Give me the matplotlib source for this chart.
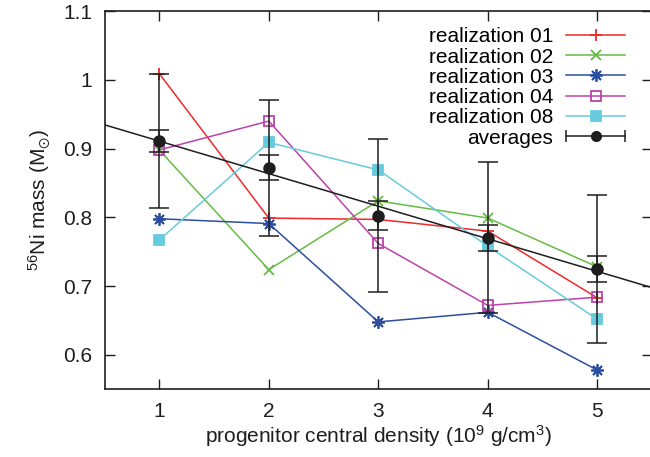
import numpy as np
import matplotlib
matplotlib.use("Agg")
import matplotlib.pyplot as plt
from matplotlib.lines import Line2D
from matplotlib.legend_handler import HandlerLine2D, HandlerTuple

plt.rcParams['font.family'] = ['Liberation Sans', 'DejaVu Sans']
plt.rcParams['mathtext.fontset'] = 'custom'
plt.rcParams['mathtext.rm'] = 'Liberation Sans'
plt.rcParams['mathtext.it'] = 'Liberation Sans'
plt.rcParams['mathtext.default'] = 'regular'

density = [1, 2, 3, 4, 5]
real01 = [1.009, 0.799, 0.797, 0.780, 0.683]
real02 = [0.898, 0.724, 0.824, 0.799, 0.728]
real03 = [0.798, 0.791, 0.648, 0.662, 0.578]
real04 = [0.898, 0.940, 0.762, 0.672, 0.684]
real08 = [0.767, 0.909, 0.869, 0.758, 0.652]
averages = [0.911, 0.872, 0.8025, 0.7705, 0.725]
err_large = [0.097, 0.099, 0.111, 0.110, 0.108]
err_small = [0.016, 0.018, 0.021, 0.019, 0.019]
xticks = [1, 2, 3, 4, 5]
yticks = [0.6, 0.7, 0.8, 0.9, 1.0, 1.1]
ytick_labels = ['0.6', '0.7', '0.8', '0.9', '1', '1.1']

FS = 15
fig = plt.figure(figsize=(6.5, 4.57), dpi=100)
ax = fig.add_axes([0.1608, 0.1481, 0.8423, 0.8278])

series = [
    ('realization 01', real01, '#ee2a2a', '+', 'full', 9),
    ('realization 02', real02, '#66bb44', 'x', 'full', 7),
    ('realization 03', real03, '#2b4ea0', (8, 2, 0), 'full', 9),
    ('realization 04', real04, '#bb44aa', 's', 'none', 7.5),
    ('realization 08', real08, '#66ccdd', 's', 'full', 7.5),
]
handles = []
labels = []
for lab, vals, col, mk, fill, ms in series:
    ln, = ax.plot(density, vals, color=col, lw=1.1, marker=mk, ms=ms,
                  fillstyle=fill, mew=1.3, mfc=col if fill == 'full' else 'none',
                  mec=col, zorder=2)
    handles.append(ln)
    labels.append(lab)

black = '#1e1e1e'
ax.errorbar(density, averages, yerr=err_large, fmt='none', ecolor=black,
            elinewidth=1.1, capsize=7, capthick=1.1, zorder=3)
ax.errorbar(density, averages, yerr=err_small, fmt='o', color=black, ms=8,
            ecolor=black, elinewidth=1.1, capsize=7, capthick=1.1, zorder=3)

coef = np.polyfit(density, averages, 1)
xf = np.array([0.5, 5.5])
ax.plot(xf, np.polyval(coef, xf), color=black, lw=1.1, zorder=4)

# legend handle for averages
cap_h = Line2D([], [], color=black, lw=1.1, marker='|', ms=9, mew=1.1)
dot_h = Line2D([], [], color=black, lw=0, marker='o', ms=7)
avg_h = (cap_h, dot_h)
handles.append(avg_h)
labels.append('averages')

leg = ax.legend(handles, labels, loc='upper right', bbox_to_anchor=(0.951, 0.957),
                markerfirst=False, frameon=False, fontsize=FS, handlelength=2.85,
                handletextpad=0.6, labelspacing=0.06, borderpad=0.0,
                borderaxespad=0.0, numpoints=1,
                handler_map={cap_h: HandlerLine2D(numpoints=2, marker_pad=0),
                             tuple: HandlerTuple(ndivide=1)})

ax.set_xlim(0.5, 5.5)
ax.set_ylim(0.55, 1.1)
ax.set_xticks(xticks)
ax.set_yticks(yticks)
ax.set_yticklabels(ytick_labels)
ax.tick_params(direction='in', length=7, width=1.0, top=True, right=True,
               labelsize=FS, colors='#1e1e1e', pad=9)
for sp in ax.spines.values():
    sp.set_linewidth(1.2)
    sp.set_color('#1e1e1e')

ax.set_xlabel('progenitor central density (10$^9$ g/cm$^3$)', fontsize=FS,
              color='#1e1e1e', labelpad=2)
ax.set_ylabel('$^{56}$Ni mass (M$_{\\odot}$)', fontsize=FS, color='#1e1e1e',
              labelpad=8)

fig.savefig('out.png', dpi=100)
